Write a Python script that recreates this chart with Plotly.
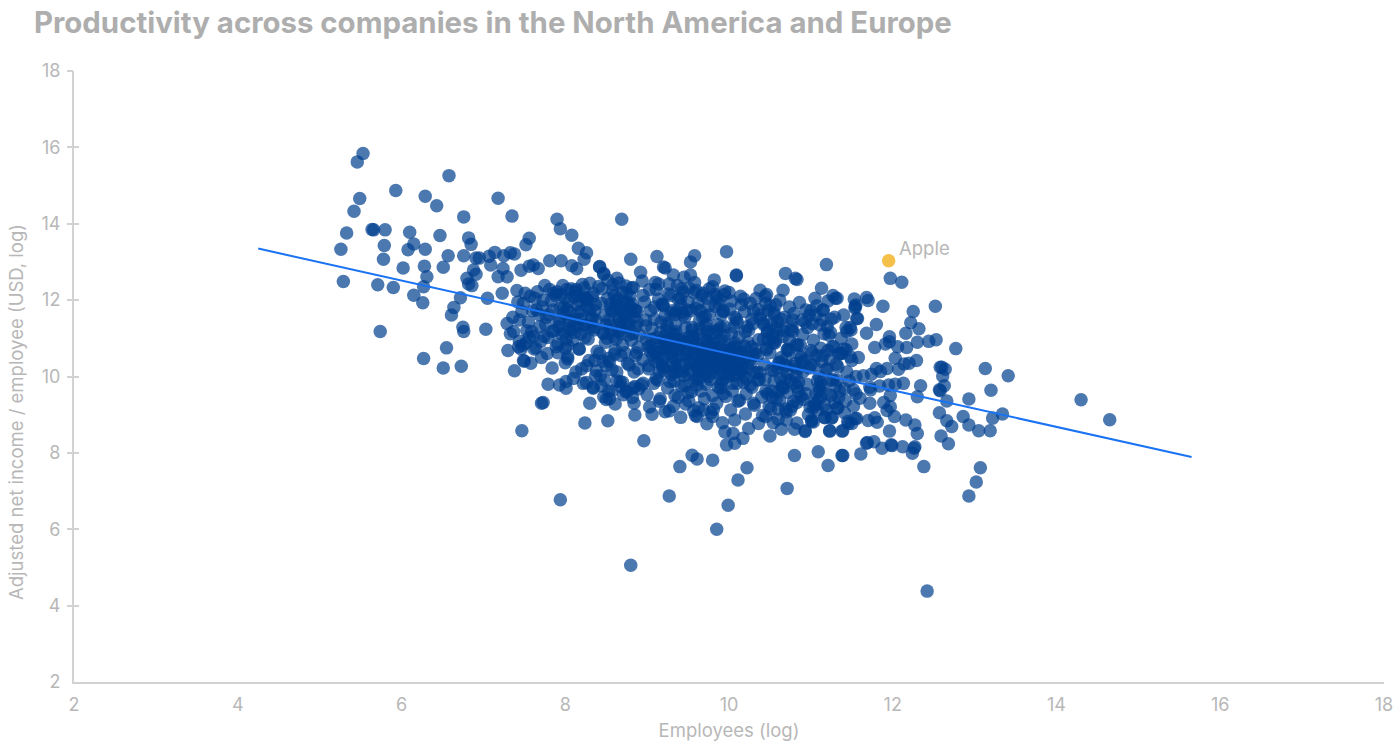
import plotly.graph_objects as go

TITLE = "Productivity across companies in the North America and Europe"
X_LABEL = "Employees (log)"
Y_LABEL = "Adjusted net income / employee (USD, log)"
axis_tick_values = [2, 4, 6, 8, 10, 12, 14, 16, 18]
y_mark_values = [4, 6, 8, 10, 12, 14, 16, 18]

apple_x = [11.95]
apple_y = [13.03]
trend_x = [4.25, 15.65]
trend_y = [13.35, 7.89]

left_x = [5.53,5.46,5.49,5.42,5.93,6.29,6.43,6.58,5.33,5.26,5.29,5.64,5.66,5.80,5.79,5.78,6.10,6.15,6.08,6.29,
          6.02,5.71,5.90,6.28,6.31,6.27,6.15,6.26,5.74,6.47,6.57,6.51,6.76,6.82,6.85,6.76,6.91,6.95,7.07,7.14,
          7.25,7.33,7.38,7.09,7.24,7.18,7.29,6.88,6.91,6.80,6.82,6.86,6.72,7.05,6.64,6.61,6.75,6.76,7.03,6.55,
          6.27,6.51,6.73,7.18,7.35,7.90,7.94,8.08,8.16,8.26,8.23,8.69,7.56,7.52,7.46,7.56,7.61,7.67,7.81,7.95,
          8.08,8.14,8.42,8.47,8.80,8.92,7.23,7.29,7.37,7.30,7.43,7.49,7.50,7.38,7.79,7.93,8.01,8.01,7.71,7.73,
          8.30,8.47,8.54,8.84,8.85,8.24,8.52,7.47,8.96,8.68,8.85,8.20,8.26,8.34,8.48,8.36,8.54,8.00,8.03]
left_y = [15.84,15.62,14.66,14.33,14.87,14.72,14.47,15.26,13.76,13.33,12.49,13.85,13.84,13.84,13.43,13.07,13.78,13.47,13.32,13.33,
          12.84,12.40,12.33,12.89,12.61,12.35,12.13,11.93,11.18,13.69,13.16,12.86,14.18,13.63,13.46,13.16,13.10,13.10,13.15,13.25,
          13.16,13.24,13.21,12.92,12.83,12.61,12.61,12.79,12.68,12.57,12.42,12.38,12.06,12.05,11.81,11.61,11.29,11.18,11.24,10.75,
          10.47,10.22,10.27,14.67,14.20,14.12,13.87,13.70,13.36,13.24,13.07,14.12,13.62,13.45,12.78,12.89,12.92,12.83,13.03,13.03,
          12.90,12.82,12.88,12.70,13.07,12.73,12.18,11.39,11.18,10.68,10.78,10.42,10.40,10.15,9.80,9.78,9.69,9.87,9.30,9.32,
          9.30,9.47,9.42,9.30,8.99,8.78,8.84,8.58,8.32,9.74,9.74,10.20,9.84,9.69,9.91,10.42,10.39,10.74,10.46]

mid_x = [9.12,9.20,9.22,9.53,9.58,9.97,10.09,10.09,11.19,10.69,10.81,10.83,10.66,11.13,11.05,11.30,11.53,11.68,11.54,11.56,
         11.15,10.38,10.46,10.18,9.82,9.53,9.45,9.32,9.10,8.63,8.74,8.42,8.47,8.30,8.24,9.06,9.41,9.57,9.61,9.73,
         9.69,9.81,9.80,9.92,10.07,9.95,10.05,10.17,9.97,10.07,10.24,10.36,10.50,10.54,10.64,10.70,10.80,10.93,11.01,11.23,
         11.39,11.46,11.54,11.17,11.26,10.80,11.09,11.21,11.39,11.61,11.68,11.69,9.40,9.55,9.61,9.80,10.22,10.11,10.71,7.94,
         9.27,9.99,8.80,9.85,12.42]
mid_y = [13.14,12.87,12.84,13.00,13.16,13.27,12.66,12.64,12.93,12.70,12.57,12.54,12.26,12.31,12.05,12.05,12.03,12.07,11.83,11.52,
         11.74,12.26,12.15,12.03,12.53,12.66,12.60,12.66,12.46,12.57,12.37,12.87,12.68,12.44,12.07,9.01,8.93,9.10,8.95,8.76,
         9.12,9.14,8.95,8.79,8.86,8.55,8.51,8.38,8.21,8.25,8.64,8.77,8.44,8.79,8.62,8.86,8.62,8.58,8.82,8.58,
         8.58,8.77,8.90,8.93,8.93,7.93,8.03,7.67,7.93,7.97,8.25,8.27,7.64,7.94,7.84,7.81,7.61,7.29,7.07,6.77,
         6.87,6.63,5.06,6.00,4.38]

right_x = [11.97,12.11,12.52,12.25,12.22,12.32,12.16,11.88,12.30,12.44,12.53,12.77,11.70,11.55,11.54,11.57,11.80,11.27,11.32,11.15,
           11.40,11.68,11.96,11.96,11.91,11.78,12.06,12.17,12.03,12.29,12.20,12.14,11.93,11.80,11.85,11.74,12.07,12.58,12.60,12.64,
           12.61,13.13,13.41,12.34,12.13,12.03,11.95,11.84,11.73,12.63,12.57,12.58,13.20,12.30,11.97,12.66,12.93,11.60,11.72,11.89,
           11.97,11.93,12.02,12.16,12.27,12.57,12.66,12.72,12.86,12.93,13.05,13.19,13.22,13.34,14.30,14.65,11.96,12.30,12.59,12.68,
           11.77,11.87,11.98,11.99,12.12,12.27,12.26,12.24,11.38,12.38,13.07,13.02,12.93,11.01,11.03,11.23,11.38,11.50,11.17,11.25,
           11.45,11.56,11.70,11.81,11.78,10.93,11.32,11.05]
right_y = [12.57,12.47,11.84,11.70,11.41,11.25,11.13,11.84,10.90,10.92,10.96,10.73,11.99,11.87,11.79,11.52,11.36,12.12,12.05,11.74,
           11.61,11.13,11.04,10.91,10.85,10.76,10.78,10.76,10.48,10.42,10.35,10.33,10.21,10.21,10.13,10.06,10.19,10.24,10.24,10.19,
           10.01,10.21,10.02,9.76,9.82,9.80,9.78,9.75,9.65,9.76,9.65,9.63,9.64,9.47,9.50,9.36,9.41,9.43,9.30,9.32,
           9.21,9.11,8.95,8.86,8.73,9.05,8.84,8.69,8.95,8.73,8.58,8.58,8.91,9.02,9.39,8.87,8.57,8.51,8.44,8.24,
           8.29,8.12,8.21,8.19,8.16,8.16,8.12,7.99,7.93,7.64,7.61,7.24,6.87,8.86,8.81,8.57,8.57,8.77,8.92,8.91,
           8.82,8.90,8.85,8.80,8.92,8.56,9.17,9.25]

# estimated from the dense centre of the cloud
centre_x = [7.42,7.51,7.63,7.72,7.81,7.88,7.97,8.04,8.12,8.21,8.33,8.41,8.52,8.58,8.66,8.75,8.83,8.94,9.03,9.14,
            9.26,9.37,9.44,9.58,9.67,9.76,9.88,9.95,10.03,10.14,10.26,10.33,10.44,10.57,10.62,10.74,10.86,10.94,11.07,11.21,
            7.36,7.47,7.55,7.68,7.76,7.85,7.93,8.06,8.15,8.27,8.38,8.44,8.56,8.62,8.72,8.79,8.88,8.97,9.09,9.18,
            9.29,9.41,9.49,9.62,9.71,9.83,9.91,10.01,10.09,10.19,10.29,10.39,10.48,10.59,10.68,10.77,10.89,10.98,11.11,11.25,
            7.33,7.44,7.59,7.74,7.87,8.01,8.11,8.24,8.35,8.47,8.55,8.65,8.77,8.86,8.98,9.06,9.17,9.24,9.35,9.46,
            9.55,9.64,9.74,9.86,9.94,10.06,10.12,10.24,10.36,10.47,10.56,10.66,10.78,10.84,10.96,11.03,11.16,11.28,11.37,11.49,
            7.48,7.62,7.78,7.91,8.03,8.17,8.29,8.39,8.49,8.6,8.7,8.81,8.91,9.01,9.12,9.21,9.33,9.43,9.52,9.61,
            9.69,9.79,9.89,9.98,10.07,10.16,10.27,10.35,10.46,10.54,10.64,10.73,10.82,10.92,11.01,11.12,11.23,11.34,11.43,11.58,
            7.58,7.71,7.84,8.0,8.13,8.26,8.37,8.46,8.57,8.68,8.78,8.87,8.95,9.04,9.13,9.23,9.31,9.39,9.48,9.56,
            9.65,9.73,9.81,9.9,9.99,10.08,10.17,10.25,10.34,10.43,10.52,10.61,10.71,10.8,10.9,11.0,11.1,11.2,11.31,11.44,
            8.1,8.22,8.34,8.43,8.53,8.63,8.74,8.84,8.93,9.02,9.11,9.19,9.28,9.36,9.45,9.53,9.6,9.68,9.75,9.84,
            9.92,10.0,10.1,10.18,10.28,10.37,10.45,10.55,10.65,10.75,10.85,10.95,11.06,11.14,11.24,11.35,11.47,11.55,11.64,11.72,
            8.5,8.61,8.71,8.82,8.9,9.0,9.08,9.16,9.25,9.34,9.42,9.5,9.57,9.66,9.72,9.8,9.87,9.96,10.04,10.13,
            10.21,10.3,10.4,10.49,10.58,10.69,10.79,10.88,10.99,11.09,11.19,11.29,11.41,11.52,9.03,9.15,9.27,9.38,9.47,9.54,
            9.63,9.7,9.78,9.85,9.93,10.02,10.11,10.2,10.31,10.41,10.51,10.6,10.7,10.83,10.97,11.08,9.22,9.32,9.51,9.59,
            9.67,9.77,9.84,9.9,9.97,10.05,10.15,10.23,10.32,10.42,10.53,10.63,8.67,8.76,8.89,8.99,9.1,9.2,9.3,9.4]
centre_y = [11.95,12.18,12.05,11.82,12.28,12.12,12.38,11.96,12.22,12.41,12.08,12.36,12.52,12.24,12.45,12.18,12.33,12.5,12.27,12.42,
            12.16,12.38,12.21,12.46,12.12,12.3,12.02,12.24,11.98,12.1,11.92,12.04,12.1,11.88,12.0,11.82,11.94,11.74,11.85,11.98,
            11.55,11.7,11.42,11.62,11.36,11.74,11.5,11.68,11.3,11.82,11.46,11.92,11.76,11.97,11.6,11.85,11.7,11.95,11.82,11.9,
            11.66,11.88,11.74,11.92,11.58,11.84,11.62,11.76,11.5,11.7,11.38,11.62,11.72,11.44,11.55,11.3,11.48,11.6,11.35,11.5,
            11.12,10.92,11.18,11.05,11.2,10.98,11.15,11.02,11.28,11.12,11.35,11.18,11.42,11.3,11.48,11.25,11.42,11.2,11.36,11.55,
            11.28,11.46,11.18,11.36,11.08,11.3,11.02,11.22,10.96,11.15,10.88,11.05,11.18,10.82,11.28,10.95,11.12,10.78,11.0,11.22,
            10.82,10.72,10.6,10.85,10.52,10.72,10.42,10.66,10.9,10.58,10.82,10.95,11.08,10.78,11.02,10.88,11.1,10.92,11.05,10.82,
            10.98,10.76,10.95,10.68,10.88,10.62,10.78,10.55,10.7,10.88,10.5,10.68,10.84,10.42,10.62,10.74,10.45,10.58,10.7,10.5,
            10.35,10.5,10.22,10.36,10.12,10.28,10.02,10.4,10.18,10.55,10.3,10.62,10.44,10.66,10.5,10.7,10.52,10.75,10.58,10.72,
            10.46,10.62,10.38,10.56,10.3,10.48,10.22,10.42,10.1,10.32,10.18,10.38,10.08,10.26,10.12,10.3,10.0,10.2,10.32,10.12,
            9.95,9.82,9.72,10.02,9.62,9.88,9.6,10.12,9.78,10.28,9.95,10.22,9.86,10.12,10.02,10.34,9.92,10.18,10.0,10.26,
            9.9,10.08,9.82,10.02,9.72,9.92,9.62,9.88,9.7,9.9,9.6,9.8,9.55,9.75,9.9,9.62,9.88,9.55,10.02,9.72,
            9.4,9.28,9.52,9.45,9.68,9.52,9.82,9.42,9.7,9.5,9.76,9.58,9.88,9.62,9.8,9.5,9.72,9.48,9.62,9.38,
            9.55,9.3,9.46,9.22,9.42,9.15,9.35,9.48,9.2,9.4,9.12,9.32,9.05,9.22,9.2,9.35,9.1,9.45,9.28,9.6,
            9.18,9.42,9.05,9.3,9.55,9.12,9.35,9.02,9.25,8.98,9.15,8.88,9.08,8.78,9.0,9.12,9.08,9.22,9.36,8.98,
            10.52,10.38,10.24,9.7,10.42,10.76,10.14,10.9,10.6,10.98,11.1,11.22,9.86,9.6,10.76,10.98,10.6,10.84,11.02,10.96]

# estimated from the darkest clumps of the cloud
clump_x = [8.45,8.52,8.58,8.63,8.7,8.76,8.81,8.86,8.48,8.55,8.6,8.66,8.73,8.79,8.84,8.5,8.57,8.64,8.69,8.75,
           8.82,8.88,8.46,8.53,8.61,8.68,8.74,8.8,8.56,8.65,8.72,8.78,8.85,8.59,8.67,8.71,8.77,8.83,8.51,8.62,
           9.02,9.07,9.13,9.18,9.24,9.3,9.35,9.41,9.46,9.52,9.58,9.63,9.69,9.74,9.79,9.85,9.9,9.96,10.01,10.06,
           10.12,10.18,10.23,10.29,10.35,9.04,9.1,9.16,9.22,9.27,9.33,9.39,9.44,9.5,9.55,9.61,9.66,9.72,9.77,9.83,
           9.88,9.93,9.99,10.04,10.1,10.15,10.21,10.27,10.32,10.38,9.06,9.12,9.19,9.25,9.31,9.37,9.43,9.49,9.54,9.6,
           9.65,9.71,9.76,9.82,9.87,9.92,9.98,10.03,10.09,10.14,10.2,10.26,10.31,9.21,9.28,9.34,9.4,9.47,9.53,9.59,
           9.64,9.7,9.75,9.81,9.86,9.91,9.97,10.02,10.08,10.13,10.19,9.08,9.15,9.2,9.26,9.32,9.38,9.45,9.51,9.56,
           9.62,9.68,9.73,9.78,9.84,9.89,9.95,10.0,10.05,10.11,7.92,7.98,8.05,8.11,8.16,8.22,8.28,8.33,7.95,8.02,
           8.08,8.14,8.19,8.25,8.31,8.36,7.9,7.99,8.07,8.18,9.2,9.29,9.36,9.42,9.5,9.57,9.65,9.73,9.8,9.88,
           9.94,9.22,9.31,9.38,9.44,9.54,9.6,9.68,9.75,9.83,9.93,9.25,9.35,9.47,9.56,9.64,9.72,9.78,9.86,9.95,
           10.42,10.48,10.55,10.61,10.67,10.72,10.78,10.84,10.9,11.0,11.06,11.13,11.2,11.26,11.33,10.44,10.5,10.58,10.65,10.7,
           10.76,10.82,10.88,11.02,11.08,11.15,11.22,11.3,11.38,11.44,10.46,10.53,10.6,10.68,10.74,10.8,10.86,11.04,11.1,11.18,
           11.24,11.32,11.4,11.48,11.5,10.52,10.63,10.72,10.83,11.12]
clump_y = [12.3,12.05,12.4,11.85,12.2,11.95,12.32,11.72,11.6,11.9,12.12,11.48,11.82,12.1,11.55,11.35,11.7,12.02,11.28,11.62,
           11.9,11.42,11.15,11.48,11.78,11.12,11.4,11.7,11.2,11.55,11.92,11.28,11.75,11.05,11.38,11.68,11.08,11.12,11.0,10.98,
           10.2,10.55,9.9,10.35,10.72,10.05,10.45,10.85,9.75,10.18,10.6,9.95,10.38,10.8,10.1,10.5,9.8,10.25,10.65,10.02,
           10.42,9.85,10.22,10.55,9.9,10.8,10.4,10.92,10.15,10.6,9.88,10.32,10.98,10.05,10.5,9.78,10.2,10.68,9.92,10.35,
           10.75,10.05,10.45,9.82,10.22,10.62,9.95,10.35,10.72,10.1,10.98,10.62,10.28,10.85,10.38,10.7,10.12,10.58,10.92,10.28,
           10.72,10.08,10.52,10.88,10.2,10.6,10.0,10.38,10.78,10.18,10.52,9.78,10.1,11.05,10.72,10.25,10.55,10.9,10.4,10.75,
           10.12,10.5,10.88,10.25,10.62,10.95,10.35,10.72,10.08,10.42,10.8,10.68,10.12,10.48,10.95,10.15,10.82,10.3,10.65,10.98,
           10.22,10.58,10.95,10.35,10.7,10.05,10.42,10.8,10.18,10.55,11.3,11.82,11.45,12.08,11.68,11.35,11.98,11.55,12.15,11.75,
           11.22,11.88,11.5,12.05,11.3,11.72,12.22,11.15,12.3,11.98,11.85,12.12,11.7,12.3,11.95,12.2,11.72,12.05,12.35,11.88,
           12.15,11.6,11.72,12.02,11.62,11.72,12.25,11.55,11.85,12.15,11.7,11.32,11.18,11.28,11.05,11.25,11.38,11.12,11.22,11.3,
           11.4,10.95,11.62,10.35,11.2,10.72,11.48,10.2,11.1,10.68,11.6,10.4,11.3,10.78,10.25,9.92,10.62,11.28,9.75,10.48,
           11.22,10.02,10.5,11.38,9.88,10.55,11.08,9.75,10.6,11.18,10.75,11.02,9.6,10.28,10.95,9.82,10.55,10.3,9.72,10.18,
           11.15,9.9,10.72,11.28,10.42,9.62,9.95,9.58,9.72,9.45]

# estimated from the outer shoulders of the cloud
shoulder_x = [7.41,7.49,7.57,7.65,7.73,7.8,7.86,7.94,8.0,8.07,8.13,8.2,8.26,8.32,8.37,7.44,7.53,7.6,7.69,7.77,
              7.84,7.92,7.99,8.05,8.12,8.19,8.24,8.3,8.35,7.52,7.61,7.7,7.79,7.89,7.96,8.03,8.09,8.17,8.28,7.66,
              7.75,7.83,8.02,8.15,8.23,8.34,7.46,7.56,7.64,7.91,
              8.95,9.04,9.11,9.19,9.27,9.34,9.41,9.51,9.6,9.68,9.76,9.85,9.93,10.0,10.07,10.15,10.22,10.3,10.38,10.47,
              10.55,8.98,9.09,9.16,9.24,9.33,9.43,9.55,9.63,9.71,9.82,9.9,10.03,10.1,10.2,10.28,10.36,10.45,10.52,9.14,
              10.43,10.5,10.57,10.64,10.71,10.79,10.87,10.93,11.0,11.07,11.14,11.21,11.29,11.36,11.43,11.5,10.47,10.55,10.62,10.69,
              10.77,10.85,10.91,10.98,11.05,11.12,11.19,11.27,11.34,11.41,11.48,11.55,10.45,10.53,10.6,10.67,10.75,10.83,10.94,11.03,
              11.1,11.17,11.25,11.33,11.42,11.52,10.59,10.7,10.81,10.9,
              8.38,8.44,8.5,8.57,8.63,8.7,8.76,8.83,8.89,8.95,8.42,8.53,8.61,8.73,8.86]
shoulder_y = [12.25,11.92,12.1,11.74,12.0,11.62,12.18,11.8,12.05,11.45,12.28,11.7,12.02,11.52,11.88,11.48,11.2,11.72,11.3,11.55,
              11.18,11.42,11.65,11.25,11.5,11.12,11.35,11.75,11.22,10.88,11.05,10.92,11.02,10.78,11.1,10.82,10.95,10.72,10.98,12.22,
              12.38,11.98,12.28,12.12,12.32,12.18,10.72,11.02,10.75,10.62,
              12.12,11.72,12.28,11.88,12.42,11.62,12.05,12.32,11.78,12.18,11.62,12.08,11.72,12.2,11.55,11.88,11.3,11.72,11.52,11.22,
              11.68,11.32,11.5,11.15,11.38,11.12,11.68,11.22,11.1,11.3,11.18,11.28,11.12,11.42,11.18,11.5,11.75,11.92,11.38,12.02,
              11.35,11.85,10.95,11.5,10.7,11.65,10.82,11.42,11.72,10.55,11.48,10.68,11.55,10.6,11.28,10.85,9.55,10.15,9.38,9.95,
              9.22,9.85,9.4,10.22,9.3,9.85,9.55,9.92,9.45,9.68,10.52,10.0,8.95,9.45,9.15,9.7,9.12,9.32,9.55,9.18,
              9.62,9.25,9.5,9.18,9.36,9.65,10.22,10.28,10.35,10.38,
              10.15,9.75,10.28,9.62,10.12,9.85,10.35,9.7,10.2,9.82,10.6,10.48,10.7,10.62,10.55]

employees_log = left_x + mid_x + right_x + centre_x + clump_x + shoulder_x
income_log = left_y + mid_y + right_y + centre_y + clump_y + shoulder_y

TEXT = "#b7b7b7"
AXIS = "#d2d2d2"
FONT = "Inter"

fig = go.Figure()
fig.add_trace(go.Scatter(x=employees_log, y=income_log, mode="markers",
                         marker=dict(size=13.5, color="#003f8f", opacity=0.7, line=dict(width=0)),
                         showlegend=False, hoverinfo="skip"))
fig.add_trace(go.Scatter(x=trend_x, y=trend_y, mode="lines",
                         line=dict(color="#1a73f2", width=2), showlegend=False, hoverinfo="skip"))
fig.add_trace(go.Scatter(x=apple_x, y=apple_y, mode="markers",
                         marker=dict(size=13.5, color="#f5c04a", line=dict(width=0)),
                         showlegend=False, hoverinfo="skip"))

fig.add_annotation(x=apple_x[0], y=apple_y[0], text="Apple", showarrow=False, xanchor="left",
                   xshift=8, yshift=13, font=dict(family=FONT, size=18.5, color=TEXT))
fig.add_annotation(xref="paper", yref="paper", x=-58 / 1310, y=(682 - 412) / 611, xanchor="center", yanchor="middle",
                   text=Y_LABEL, textangle=-90, showarrow=False, font=dict(family=FONT, size=18.5, color=TEXT))

fig.update_layout(
    width=1398, height=749, autosize=False,
    margin=dict(l=74, r=14, t=71, b=67),
    paper_bgcolor="white", plot_bgcolor="white",
    font=dict(family=FONT, size=18, color=TEXT),
    title=dict(text="<b>" + TITLE + "</b>", x=34 / 1398, xanchor="left", y=1 - 23 / 749, yanchor="middle",
               font=dict(family=FONT, size=29.4, color="#aeaeae")),
    xaxis=dict(range=[2, 18], tickvals=axis_tick_values, showgrid=False, zeroline=False, automargin=False,
               ticklabeloverflow="allow", showline=True, linecolor=AXIS, linewidth=2, ticks="", ticklabelstandoff=5,
               title=dict(text=X_LABEL, standoff=10, font=dict(size=18.5))),
    yaxis=dict(range=[2, 18], tickvals=axis_tick_values, showgrid=False, zeroline=False, automargin=False,
               showline=True, linecolor=AXIS, linewidth=2, ticks="", ticklabelstandoff=8),
    yaxis2=dict(range=[2, 18], overlaying="y", side="left", tickvals=y_mark_values, showticklabels=False,
                ticks="outside", ticklen=6, tickwidth=1.5, tickcolor=AXIS, showgrid=False, zeroline=False),
    yaxis3=dict(range=[2, 18], overlaying="y", side="left", tickvals=y_mark_values, showticklabels=False,
                ticks="inside", ticklen=5, tickwidth=1.5, tickcolor=AXIS, showgrid=False, zeroline=False),
)
fig.add_trace(go.Scatter(x=[None], y=[None], yaxis="y2", showlegend=False))
fig.add_trace(go.Scatter(x=[None], y=[None], yaxis="y3", showlegend=False))

assert len(employees_log) == len(income_log)
fig.write_html("out.html", config={"displayModeBar": False},
               post_script="document.body.style.margin='0';")
